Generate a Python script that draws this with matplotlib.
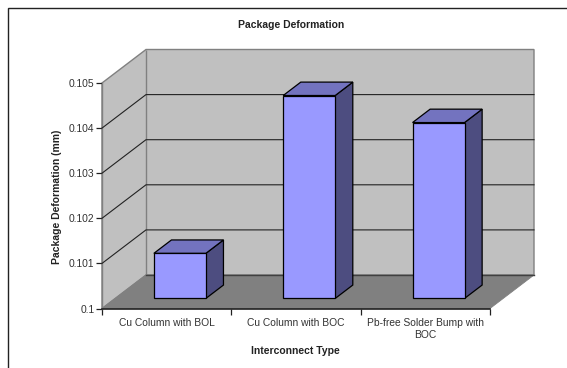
#!/usr/bin/env python3
# -*- coding: utf-8 -*-
import matplotlib
matplotlib.use("Agg")
import matplotlib.pyplot as plt
from matplotlib.lines import Line2D
from matplotlib.patches import Polygon

# Data
categories = ["Cu Column with BOL", "Cu Column with BOC", "Pb-free Solder Bump with\nBOC"]
deformation = [0.101, 0.1045, 0.1039]
y_ticks = [0.1, 0.101, 0.102, 0.103, 0.104, 0.105]
y_tick_labels = ["0.1", "0.101", "0.102", "0.103", "0.104", "0.105"]

W, H = 567, 368
plt.rcParams["font.family"] = ["Liberation Sans", "DejaVu Sans"]
fig = plt.figure(figsize=(W / 100, H / 100), dpi=100)

# axes = the front plane of the 3D box
left, right, top, bottom = 102, 490, 83, 308.5
ax = fig.add_axes([left / W, 1 - bottom / H, (right - left) / W, (bottom - top) / H])
ax.set_xlim(0, 3)
ax.set_ylim(0.1, 0.105)
ax.patch.set_visible(False)

# depth of the box, in data units
depth_x = 44 / (right - left) * 3
depth_y = 33.5 / (bottom - top) * 0.005


def project(x, y, d):
    return (x + d * depth_x, y + d * depth_y)


def face(points, color, edge, lw=1.0, z=1):
    ax.add_patch(Polygon([project(*p) for p in points], closed=True, facecolor=color,
                         edgecolor=edge, linewidth=lw, zorder=z, clip_on=False,
                         joinstyle="miter"))


ymin, ymax = y_ticks[0], y_ticks[-1]
# walls and floor
face([(0, ymin, 0), (0, ymin, 1), (3, ymin, 1), (3, ymax, 1), (0, ymax, 1), (0, ymax, 0)],
     "#c0c0c0", "#808080", 1.0, 1)
face([(0, ymin, 1), (0, ymax, 1)], "none", "#808080", 1.0, 2)
face([(0, ymin, 0), (3, ymin, 0), (3, ymin, 1), (0, ymin, 1)], "#808080", "#808080", 0.6, 2)

# gridlines on side and back wall
for v in y_ticks[1:-1]:
    xs, ys = zip(project(0, v, 0), project(0, v, 1), project(3, v, 1))
    ax.plot(xs, ys, color="#222222", lw=0.8, zorder=3, clip_on=False)
xs, ys = zip(project(0, ymin, 1), project(3, ymin, 1))
ax.plot(xs, ys, color="#404040", lw=1.0, zorder=3, clip_on=False)

# bars
bar_w = 52 / (right - left) * 3
d0, d1 = 0.3, 0.7
for i, val in enumerate(deformation):
    x0 = i + 0.5 - bar_w / 2
    x1 = x0 + bar_w
    z = 5 + i
    face([(x1, ymin, d0), (x1, ymin, d1), (x1, val, d1), (x1, val, d0)], "#4d4d80", "black", 0.9, z)
    face([(x0, val, d0), (x1, val, d0), (x1, val, d1), (x0, val, d1)], "#7373bf", "black", 0.9, z)
    face([(x0, ymin, d0), (x1, ymin, d0), (x1, val, d0), (x0, val, d0)], "#9999ff", "black", 0.9, z)

# axes lines, ticks
for s in ["top", "right"]:
    ax.spines[s].set_visible(False)
ax.spines["left"].set_color("#808080")
ax.spines["left"].set_linewidth(1.0)
ax.spines["bottom"].set_color("#202020")
ax.spines["bottom"].set_linewidth(1.2)
ax.spines["bottom"].set_zorder(20)
ax.set_yticks(y_ticks)
ax.set_yticklabels(y_tick_labels)
ax.set_xticks([0, 1, 2, 3])
ax.set_xticklabels([])
ax.set_xticks([0.5, 1.5, 2.5], minor=True)
ax.set_xticklabels(categories, minor=True, linespacing=1.25)
ax.tick_params(axis="y", length=4, width=0.9, pad=1.5, labelsize=7.4, color="#202020", labelcolor="#333333")
ax.tick_params(axis="x", which="major", length=4, width=0.9, color="#202020")
ax.tick_params(axis="x", which="minor", length=0, pad=6.5, labelsize=7.4, labelcolor="#333333")

# labels and title at figure level
fig.text(291 / W, 1 - 25 / H, "Package Deformation", ha="center", va="center",
         fontsize=7.5, fontweight="bold", color="#222222")
fig.text(295 / W, 1 - 351.5 / H, "Interconnect Type", ha="center", va="center",
         fontsize=7.5, fontweight="bold", color="#222222")
fig.text(57.5 / W, 1 - 197 / H, "Package Deformation (mm)", ha="center", va="center",
         rotation=90, fontsize=7.5, fontweight="bold", color="#222222")

# outer chart frame, runs off the right and bottom edges
fig.add_artist(Line2D([7.5 / W, 7.5 / W, 1], [0, 1 - 8 / H, 1 - 8 / H], color="#222222", lw=1.0,
                      solid_joinstyle="miter"))

fig.savefig("out.png", dpi=100)
